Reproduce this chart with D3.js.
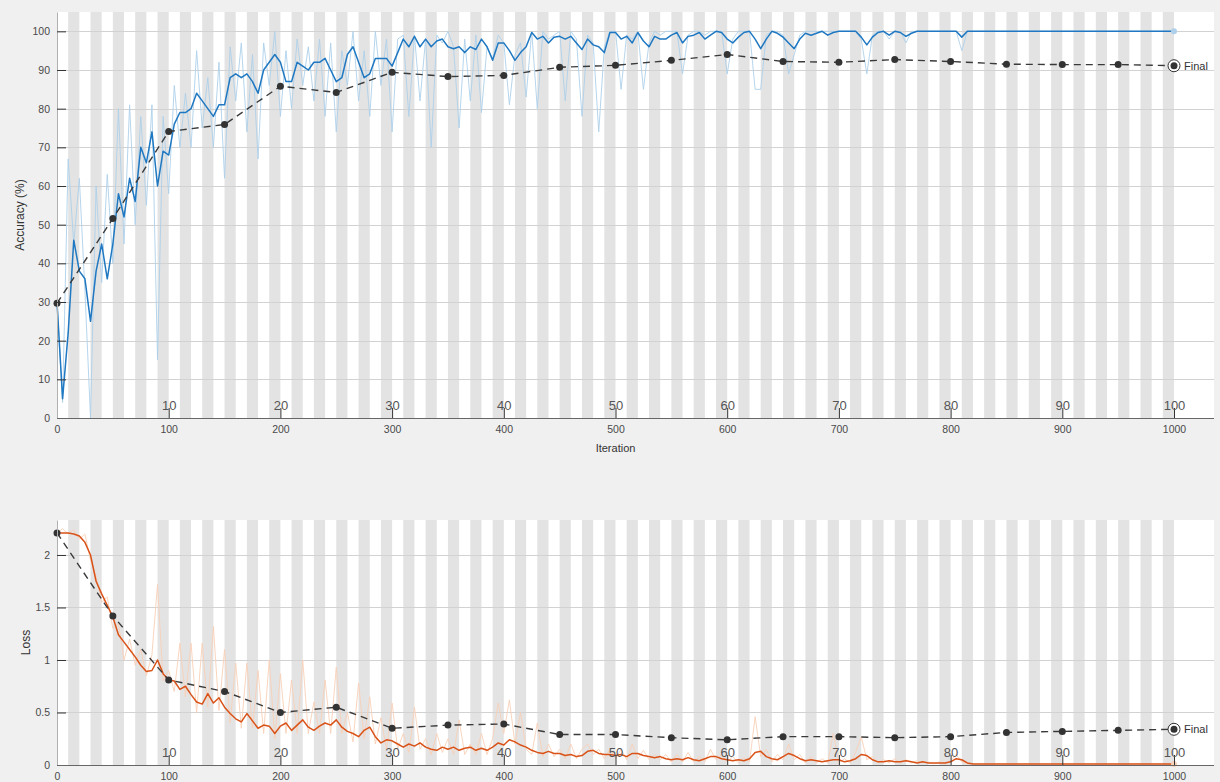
<!DOCTYPE html>
<html>
<head>
<meta charset="utf-8">
<script src="https://cdn.jsdelivr.net/npm/d3@7"></script>
<style>
  html, body { margin: 0; padding: 0; background: #f0f0f0; }
  svg { display: block; font-family: "Liberation Sans", Arial, sans-serif; }
</style>
</head>
<body>
<div id="chart"></div>
<script>
// ------- Data (training progress, one value every 5 iterations) -------

const iterations = d3.range(0, 1001, 5); // 0, 5, ..., 1000

const accSmooth = [
  30, 5, 22, 46, 38, 36, 25, 38, 45, 36, 45, 58, 52, 62, 56, 70, 66, 74, 60, 69,
  68, 76, 79, 79, 80, 84, 82, 80, 78, 81, 81, 88, 89, 88, 89, 87, 84, 90, 92, 94,
  92, 87, 87, 92, 91, 90, 92, 92, 93, 90, 87, 88, 94, 96, 92, 88, 89, 93, 93, 93,
  91, 94.5, 98, 96, 98.7, 96, 98, 96, 97.5, 98, 96, 95.5, 96, 94.5, 96, 95.3, 98, 96, 92.5, 97,
  97, 95, 92.5, 94.5, 96, 99.7, 98, 98.7, 97, 98.5, 98.7, 98, 98.7, 97, 95.3, 98, 96.5, 96, 94.5, 99.7,
  99.7, 98, 98.7, 97, 99.7, 97.5, 96, 98.7, 98, 98, 99, 99.7, 97, 98.7, 99, 99.7, 98, 99, 100, 99.7,
  98, 97, 98.5, 99.7, 100, 98, 95.5, 98, 100, 99.5, 98.5, 97, 95.5, 98, 99.5, 99, 99.5, 100, 99, 99.7,
  100, 100, 100, 100, 98.5, 96.5, 98.5, 99.7, 100, 99, 100, 99.7, 98.7, 99.5, 100, 100, 100, 100, 100, 100,
  100, 100, 98.5, 100, 100, 100, 100, 100, 100, 100, 100, 100, 100, 100, 100, 100, 100, 100, 100, 100,
  100, 100, 100, 100, 100, 100, 100, 100, 100, 100, 100, 100, 100, 100, 100, 100, 100, 100, 100, 100,
  100
];

const accRaw = [
  30, 4, 67, 45, 62, 33, 0, 60, 35, 63, 40, 80, 45, 81, 50, 78, 55, 81, 15, 78,
  58, 86, 70, 84, 70, 95, 75, 88, 70, 92, 62, 96, 82, 97, 74, 94, 67, 97, 86, 100,
  78, 95, 80, 98, 86, 96, 82, 98, 78, 97, 74, 95, 86, 100, 82, 95, 78, 100, 86, 98,
  74, 98, 99, 78, 99, 82, 98, 70, 99, 97, 100, 96, 75, 98, 82, 99, 79, 96, 93, 99,
  97, 81, 94, 97, 83, 100, 80, 100, 98, 99, 100, 82, 100, 98, 78, 99, 97, 74, 96, 100,
  100, 85, 99, 98, 100, 85, 97, 100, 99, 100, 100, 100, 89, 99, 100, 100, 99, 100, 100, 100,
  89, 98, 100, 100, 100, 85, 85, 99, 100, 100, 99, 89, 94, 99, 100, 100, 100, 100, 100, 100,
  100, 100, 100, 100, 98, 89, 99, 100, 100, 98, 100, 100, 97, 100, 100, 100, 100, 100, 100, 100,
  100, 100, 95, 100, 100, 100, 100, 100, 100, 100, 100, 100, 100, 100, 100, 100, 100, 100, 100, 100,
  100, 100, 100, 100, 100, 100, 100, 100, 100, 100, 100, 100, 100, 100, 100, 100, 100, 100, 100, 100,
  100
];

const lossSmooth = [
  2.21, 2.21, 2.21, 2.20, 2.18, 2.12, 2.00, 1.75, 1.63, 1.52, 1.41, 1.24, 1.17, 1.10, 1.03, 0.95, 0.89, 0.90, 1.00, 0.87,
  0.81, 0.80, 0.72, 0.75, 0.67, 0.60, 0.58, 0.68, 0.59, 0.64, 0.55, 0.49, 0.44, 0.41, 0.49, 0.42, 0.35, 0.38, 0.37, 0.30,
  0.37, 0.40, 0.33, 0.38, 0.43, 0.36, 0.33, 0.37, 0.40, 0.38, 0.43, 0.36, 0.32, 0.30, 0.27, 0.33, 0.36, 0.27, 0.21, 0.24,
  0.23, 0.20, 0.17, 0.20, 0.18, 0.21, 0.17, 0.15, 0.14, 0.17, 0.15, 0.17, 0.14, 0.16, 0.17, 0.14, 0.16, 0.14, 0.17, 0.21,
  0.19, 0.24, 0.22, 0.19, 0.17, 0.14, 0.12, 0.11, 0.13, 0.11, 0.11, 0.09, 0.10, 0.08, 0.09, 0.13, 0.14, 0.11, 0.10, 0.10,
  0.09, 0.10, 0.08, 0.11, 0.11, 0.09, 0.08, 0.07, 0.08, 0.06, 0.05, 0.06, 0.05, 0.07, 0.05, 0.04, 0.06, 0.08, 0.08, 0.06,
  0.05, 0.04, 0.05, 0.04, 0.06, 0.12, 0.13, 0.08, 0.06, 0.05, 0.08, 0.11, 0.09, 0.06, 0.04, 0.05, 0.04, 0.03, 0.04, 0.05,
  0.05, 0.03, 0.04, 0.06, 0.10, 0.09, 0.05, 0.03, 0.03, 0.04, 0.03, 0.03, 0.04, 0.03, 0.02, 0.03, 0.02, 0.02, 0.02, 0.02,
  0.03, 0.06, 0.05, 0.02, 0.01, 0.01, 0.01, 0.01, 0.01, 0.01, 0.01, 0.01, 0.01, 0.01, 0.01, 0.01, 0.01, 0.01, 0.01, 0.01,
  0.01, 0.01, 0.01, 0.01, 0.01, 0.01, 0.01, 0.01, 0.01, 0.01, 0.01, 0.01, 0.01, 0.01, 0.01, 0.01, 0.01, 0.01, 0.01, 0.01,
  0.01
];

const lossRaw = [
  2.21, 2.25, 2.20, 2.24, 2.15, 2.20, 1.95, 1.80, 1.55, 1.60, 1.30, 1.35, 1.00, 1.20, 0.95, 1.10, 0.85, 1.05, 1.72, 0.80,
  0.90, 0.70, 1.16, 0.65, 1.16, 0.50, 1.16, 0.55, 1.32, 0.52, 1.10, 0.40, 0.97, 0.35, 0.97, 0.35, 0.90, 0.30, 1.00, 0.25,
  0.87, 0.30, 0.81, 0.30, 1.00, 0.30, 0.60, 0.30, 0.81, 0.30, 0.93, 0.30, 0.50, 0.22, 0.78, 0.25, 0.65, 0.20, 0.45, 0.15,
  0.59, 0.15, 0.30, 0.12, 0.55, 0.15, 0.25, 0.10, 0.30, 0.12, 0.25, 0.10, 0.43, 0.10, 0.20, 0.10, 0.30, 0.10, 0.25, 0.59,
  0.30, 0.62, 0.20, 0.50, 0.15, 0.10, 0.40, 0.08, 0.20, 0.08, 0.15, 0.06, 0.20, 0.06, 0.15, 0.20, 0.10, 0.15, 0.06, 0.15,
  0.06, 0.15, 0.05, 0.20, 0.06, 0.14, 0.05, 0.10, 0.05, 0.10, 0.03, 0.10, 0.03, 0.12, 0.03, 0.08, 0.03, 0.15, 0.05, 0.10,
  0.03, 0.08, 0.02, 0.07, 0.03, 0.46, 0.08, 0.15, 0.03, 0.10, 0.05, 0.20, 0.05, 0.10, 0.02, 0.08, 0.02, 0.06, 0.02, 0.30,
  0.02, 0.06, 0.02, 0.12, 0.27, 0.05, 0.08, 0.02, 0.05, 0.02, 0.06, 0.02, 0.05, 0.02, 0.04, 0.02, 0.03, 0.01, 0.03, 0.01,
  0.04, 0.10, 0.03, 0.01, 0.01, 0.01, 0.01, 0.01, 0.01, 0.01, 0.01, 0.01, 0.01, 0.01, 0.01, 0.01, 0.01, 0.01, 0.01, 0.01,
  0.01, 0.01, 0.01, 0.01, 0.01, 0.01, 0.01, 0.01, 0.01, 0.01, 0.01, 0.01, 0.01, 0.01, 0.01, 0.01, 0.01, 0.01, 0.01, 0.01,
  0.01
];

// validation, every 50 iterations
const valIterations = [0, 50, 100, 150, 200, 250, 300, 350, 400, 450, 500, 550, 600, 650, 700, 750, 800, 850, 900, 950, 1000];
const valAcc = [29.7, 51.6, 74.1, 75.9, 85.8, 84.2, 89.4, 88.3, 88.6, 90.7, 91.2, 92.5, 94.0, 92.2, 92.0, 92.7, 92.2, 91.5, 91.4, 91.4, 91.1];
const valLoss = [2.21, 1.42, 0.81, 0.70, 0.50, 0.55, 0.35, 0.38, 0.39, 0.29, 0.29, 0.26, 0.24, 0.27, 0.27, 0.26, 0.27, 0.31, 0.32, 0.33, 0.34];

// ticks
const iterTicks = [0, 100, 200, 300, 400, 500, 600, 700, 800, 900, 1000];
const epochLabels = [10, 20, 30, 40, 50, 60, 70, 80, 90, 100];
const accTicks = [0, 10, 20, 30, 40, 50, 60, 70, 80, 90, 100];
const lossTicks = [0, 0.5, 1, 1.5, 2];
const itersPerEpoch = 10;
const numEpochs = 100;

// ------- Layout -------

const width = 1220;
const height = 782;
const plotLeft = 57;
const plotRight = 1214;

const svg = d3
  .select("#chart")
  .append("svg")
  .attr("width", width)
  .attr("height", height);

svg.append("rect").attr("width", width).attr("height", height).attr("fill", "#f0f0f0");

const x = d3.scaleLinear().domain([0, 1000]).range([plotLeft, 1174]);

// ------- Panel drawing -------

function drawPanel(opts) {
  const y = d3.scaleLinear().domain([0, opts.yMax]).range([opts.bottom, opts.top]);
  const g = svg.append("g");

  // plot background
  g.append("rect")
    .attr("x", plotLeft)
    .attr("y", opts.top)
    .attr("width", plotRight - plotLeft)
    .attr("height", opts.bottom - opts.top)
    .attr("fill", "#ffffff");

  // alternating epoch shading (even epochs gray)
  const epochs = d3.range(1, numEpochs + 1).filter((e) => e % 2 === 0);
  g.selectAll("rect.band")
    .data(epochs)
    .join("rect")
    .attr("class", "band")
    .attr("x", (e) => x((e - 1) * itersPerEpoch))
    .attr("y", opts.top)
    .attr("width", (e) => x(e * itersPerEpoch) - x((e - 1) * itersPerEpoch))
    .attr("height", opts.bottom - opts.top)
    .attr("fill", "#e3e3e3");

  // horizontal grid
  g.selectAll("line.grid")
    .data(opts.yTicks.filter((t) => t > 0))
    .join("line")
    .attr("class", "grid")
    .attr("x1", plotLeft)
    .attr("x2", plotRight)
    .attr("y1", (d) => Math.round(y(d)) + 0.5)
    .attr("y2", (d) => Math.round(y(d)) + 0.5)
    .attr("stroke", "#d2d2d2")
    .attr("stroke-width", 1);

  const line = d3
    .line()
    .x((d, i) => x(iterations[i]))
    .y((d) => y(d));

  // raw training values
  g.append("path")
    .datum(opts.raw)
    .attr("d", line)
    .attr("fill", "none")
    .attr("stroke", opts.rawColor)
    .attr("stroke-width", 0.9)
    .attr("stroke-linejoin", "round");

  // smoothed training values
  g.append("path")
    .datum(opts.smooth)
    .attr("d", line)
    .attr("fill", "none")
    .attr("stroke", opts.smoothColor)
    .attr("stroke-width", 1.5)
    .attr("stroke-linejoin", "round");

  // end of training marker
  g.append("circle")
    .attr("cx", x(iterations[iterations.length - 1]))
    .attr("cy", y(opts.smooth[opts.smooth.length - 1]))
    .attr("r", 3)
    .attr("fill", opts.rawColor);

  // validation
  const valLine = d3
    .line()
    .x((d, i) => x(valIterations[i]))
    .y((d) => y(d));

  g.append("path")
    .datum(opts.val)
    .attr("d", valLine)
    .attr("fill", "none")
    .attr("stroke", "#3a3a3a")
    .attr("stroke-width", 1.4)
    .attr("stroke-dasharray", "7,5");

  g.selectAll("circle.val")
    .data(opts.val.slice(0, -1))
    .join("circle")
    .attr("class", "val")
    .attr("cx", (d, i) => x(valIterations[i]))
    .attr("cy", (d) => y(d))
    .attr("r", 3.5)
    .attr("fill", "#333");

  const lastVal = opts.val[opts.val.length - 1];
  const fx = x(valIterations[valIterations.length - 1]);
  g.append("circle")
    .attr("cx", fx)
    .attr("cy", y(lastVal))
    .attr("r", 6)
    .attr("fill", "#ffffff")
    .attr("stroke", "#333")
    .attr("stroke-width", 1);
  g.append("circle").attr("cx", fx).attr("cy", y(lastVal)).attr("r", 3.5).attr("fill", "#333");
  g.append("text")
    .attr("x", fx + 10)
    .attr("y", y(lastVal) + 4)
    .attr("font-size", 11)
    .attr("fill", "#333")
    .text("Final");

  // y axis (ticks pointing inward)
  const yAxisG = g
    .append("g")
    .attr("transform", `translate(${plotLeft},0)`)
    .call(
      d3.axisLeft(y)
        .tickValues(opts.yTicks)
        .tickFormat((d) => String(d))
        .tickSize(-9)
        .tickSizeOuter(0)
        .tickPadding(7)
    );
  yAxisG.select(".domain").attr("stroke", "#b0b0b0");
  yAxisG.selectAll(".tick line").attr("stroke", "#333");
  yAxisG.selectAll("text").attr("font-size", 10.5).attr("fill", "#4a4a4a").attr("font-family", null);

  // iteration axis
  const xAxisG = g
    .append("g")
    .attr("transform", `translate(0,${opts.bottom})`)
    .call(
      d3.axisBottom(x)
        .tickValues(iterTicks)
        .tickFormat((d) => String(d))
        .tickSize(0)
        .tickPadding(8)
    );
  xAxisG.select(".domain").remove();
  xAxisG.selectAll("text").attr("font-size", 10.5).attr("fill", "#4a4a4a").attr("font-family", null);

  g.append("line")
    .attr("x1", plotLeft)
    .attr("x2", plotRight)
    .attr("y1", opts.bottom + 0.5)
    .attr("y2", opts.bottom + 0.5)
    .attr("stroke", "#666")
    .attr("stroke-width", 1);

  // epoch ticks and labels sitting on the axis
  const epochAxisG = g
    .append("g")
    .attr("transform", `translate(0,${opts.bottom})`)
    .call(
      d3.axisTop(x)
        .tickValues(epochLabels.map((e) => e * itersPerEpoch))
        .tickFormat((d) => d / itersPerEpoch)
        .tickSize(10)
        .tickPadding(-2)
    );
  epochAxisG.select(".domain").remove();
  epochAxisG.selectAll(".tick line").attr("stroke", "#333");
  epochAxisG.selectAll("text").attr("font-size", 13).attr("fill", "#555").attr("font-family", null);

  // axis titles
  g.append("text")
    .attr("transform", `translate(${opts.yLabelX},${(opts.top + opts.bottom) / 2}) rotate(-90)`)
    .attr("text-anchor", "middle")
    .attr("font-size", 12)
    .attr("fill", "#333")
    .text(opts.yLabel);

  if (opts.xLabel) {
    g.append("text")
      .attr("x", x(500))
      .attr("y", opts.bottom + 34)
      .attr("text-anchor", "middle")
      .attr("font-size", 11)
      .attr("fill", "#333")
      .text(opts.xLabel);
  }
}

drawPanel({
  top: 12,
  bottom: 418,
  yMax: 105,
  yTicks: accTicks,
  raw: accRaw,
  smooth: accSmooth,
  val: valAcc,
  rawColor: "#aed0ea",
  smoothColor: "#1f78c1",
  yLabel: "Accuracy (%)",
  yLabelX: 24,
  xLabel: "Iteration",
});

drawPanel({
  top: 520,
  bottom: 765,
  yMax: 2.333,
  yTicks: lossTicks,
  raw: lossRaw,
  smooth: lossSmooth,
  val: valLoss,
  rawColor: "#f8d0b8",
  smoothColor: "#d95319",
  yLabel: "Loss",
  yLabelX: 30,
  xLabel: null,
});
</script>
</body>
</html>
